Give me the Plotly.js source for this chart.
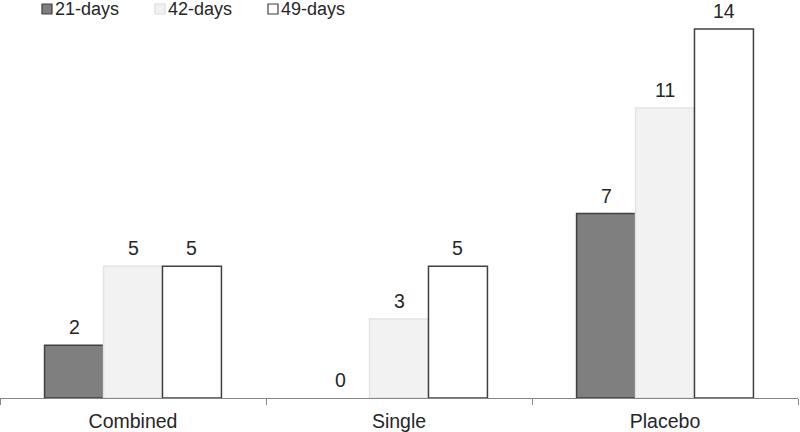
<!DOCTYPE html>
<html><head><meta charset="utf-8">
<script src="https://cdn.plot.ly/plotly-3.0.1.min.js"></script>
<style>html,body{margin:0;padding:0;background:#fff}#c{width:800px;height:432px}</style>
</head><body><div id="c"></div>
<script>
const categories = ["Combined", "Single", "Placebo"];
const seriesNames = ["21-days", "42-days", "49-days"];
const days21 = [2, 0, 7];
const days42 = [5, 3, 11];
const days49 = [5, 5, 14];

const font = "Liberation Sans, Arial, sans-serif";
const W = 800, H = 432;
const M = {l: 0, r: 2, t: 0, b: 34};
const plotW = W - M.l - M.r, plotH = H - M.t - M.b;
const bargap = 0.335;
const barW = plotW / categories.length * (1 - bargap) / seriesNames.length;

const styles = [
  {fill: "#7f7f7f", line: "#404040"},
  {fill: "#f2f2f2", line: "#e3e3e3"},
  {fill: "#ffffff", line: "#404040"}
];
const series = [days21, days42, days49];
const data = series.map((vals, i) => ({
  type: "bar", name: seriesNames[i], x: categories, y: vals,
  marker: {color: styles[i].fill,
           line: {color: styles[i].line, width: vals.map(v => v === 0 ? 0 : 1.5)}}
}));

const annotations = [];
series.forEach((vals, i) => {
  vals.forEach((v, j) => {
    annotations.push({x: categories[j], y: v, xref: "x", yref: "y", text: String(v),
      showarrow: false, yanchor: "bottom", xanchor: "center",
      xshift: (i - 1) * barW, yshift: 5,
      font: {family: font, size: 19.5, color: "#262626"}});
  });
});

// custom legend (pixel positions converted to paper coords)
const legX = [42, 155, 268];
const shapes = [];
seriesNames.forEach((nm, i) => {
  const x0 = legX[i], y0 = 4, s = 10;
  shapes.push({type: "rect", xref: "paper", yref: "paper",
    x0: x0 / plotW, x1: (x0 + s) / plotW, y0: (plotH - y0) / plotH, y1: (plotH - y0 - s) / plotH,
    fillcolor: styles[i].fill, line: {color: i === 1 ? "#d9d9d9" : "#404040", width: 1.2}});
  annotations.push({xref: "paper", yref: "paper", x: (x0 + s + 1) / plotW, y: (plotH - 9) / plotH,
    xanchor: "left", yanchor: "middle", showarrow: false, text: nm,
    font: {family: font, size: 18, color: "#262626"}});
});

const layout = {
  width: W, height: H, margin: M,
  paper_bgcolor: "#fff", plot_bgcolor: "#fff",
  barmode: "group", bargap: bargap, bargroupgap: 0,
  font: {family: font, size: 19.5, color: "#262626"},
  xaxis: {showline: true, linecolor: "#868686", linewidth: 1, ticks: "outside", tickson: "boundaries",
          ticklen: 6, tickcolor: "#868686", tickfont: {size: 19.5, color: "#262626"}, showgrid: false,
          ticklabelstandoff: 6},
  yaxis: {range: [0, 15.1], visible: false, showgrid: false, zeroline: false},
  showlegend: false,
  annotations: annotations, shapes: shapes
};
Plotly.newPlot("c", data, layout, {displayModeBar: false, staticPlot: true});
</script></body></html>
